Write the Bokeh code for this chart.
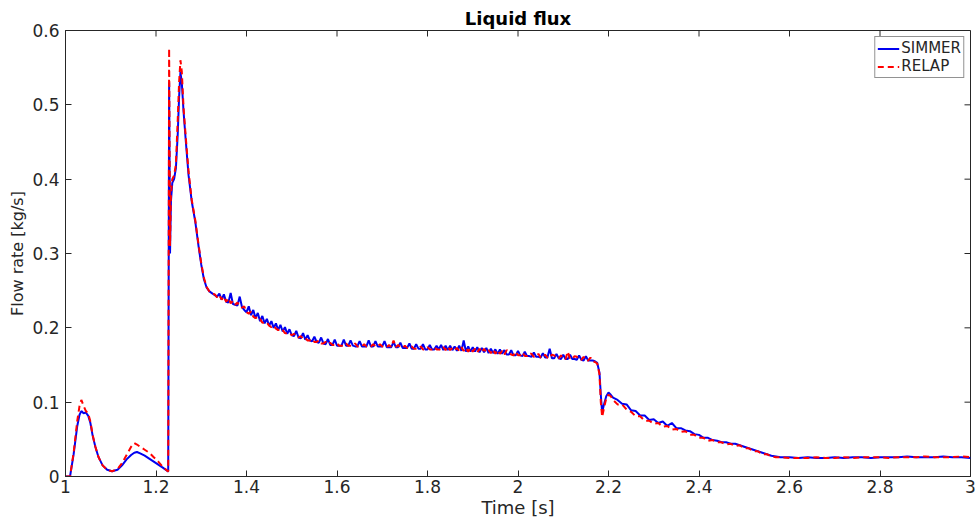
from bokeh.plotting import figure
from bokeh.models import Legend, LegendItem, FixedTicker
from bokeh.embed import file_html
from bokeh.resources import INLINE

# ---------------- data ----------------
x_ticks = [1, 1.2, 1.4, 1.6, 1.8, 2, 2.2, 2.4, 2.6, 2.8, 3]
x_tick_labels = ["1", "1.2", "1.4", "1.6", "1.8", "2", "2.2", "2.4", "2.6", "2.8", "3"]
y_ticks = [0, 0.1, 0.2, 0.3, 0.4, 0.5, 0.6]
y_tick_labels = ["0", "0.1", "0.2", "0.3", "0.4", "0.5", "0.6"]
x_limits = (1, 3)
y_limits = (0, 0.6)

# early part: two small humps
t_early = [1.000, 1.010, 1.018, 1.026, 1.031, 1.035, 1.040, 1.045, 1.050, 1.055,
           1.060, 1.066, 1.073, 1.082, 1.092, 1.103, 1.115, 1.125, 1.135, 1.145,
           1.152, 1.158, 1.165, 1.175, 1.185, 1.195, 1.205, 1.215, 1.226]
simmer_early = [0.000, 0.000, 0.030, 0.068, 0.083, 0.088, 0.085, 0.086, 0.082, 0.072,
                0.055, 0.040, 0.026, 0.015, 0.009, 0.007, 0.009, 0.015, 0.023, 0.029,
                0.032, 0.033, 0.031, 0.028, 0.024, 0.020, 0.016, 0.012, 0.007]
relap_early = [0.000, 0.000, 0.032, 0.075, 0.095, 0.103, 0.095, 0.088, 0.085, 0.074,
               0.056, 0.040, 0.026, 0.015, 0.009, 0.007, 0.010, 0.018, 0.029, 0.040,
               0.045, 0.043, 0.040, 0.036, 0.032, 0.026, 0.020, 0.013, 0.007]

# main peak
t_peak = [1.227, 1.229, 1.230, 1.231, 1.233, 1.236, 1.240, 1.244, 1.248, 1.251,
          1.254, 1.257, 1.261, 1.266, 1.272, 1.279, 1.287, 1.294, 1.300, 1.306,
          1.312, 1.318, 1.325]
simmer_peak = [0.007, 0.530, 0.420, 0.300, 0.370, 0.395, 0.400, 0.415, 0.460, 0.510,
               0.544, 0.530, 0.490, 0.450, 0.405, 0.370, 0.342, 0.310, 0.285, 0.265,
               0.254, 0.249, 0.246]
relap_peak = [0.007, 0.576, 0.450, 0.310, 0.380, 0.400, 0.405, 0.420, 0.480, 0.530,
              0.560, 0.545, 0.495, 0.455, 0.410, 0.372, 0.344, 0.312, 0.287, 0.267,
              0.255, 0.249, 0.246]

# noisy plateau 1.330 .. 2.175
t_mid = [
    1.330, 1.335, 1.340, 1.345, 1.350, 1.355, 1.360, 1.365, 1.370, 1.375,
    1.380, 1.385, 1.390, 1.395, 1.400, 1.405, 1.410, 1.415, 1.420, 1.425,
    1.430, 1.435, 1.440, 1.445, 1.450, 1.455, 1.460, 1.465, 1.470, 1.475,
    1.480, 1.485, 1.490, 1.495, 1.500, 1.505, 1.510, 1.515, 1.520, 1.525,
    1.530, 1.535, 1.540, 1.545, 1.550, 1.555, 1.560, 1.565, 1.570, 1.575,
    1.580, 1.585, 1.590, 1.595, 1.600, 1.605, 1.610, 1.615, 1.620, 1.625,
    1.630, 1.635, 1.640, 1.645, 1.650, 1.655, 1.660, 1.665, 1.670, 1.675,
    1.680, 1.685, 1.690, 1.695, 1.700, 1.705, 1.710, 1.715, 1.720, 1.725,
    1.730, 1.735, 1.740, 1.745, 1.750, 1.755, 1.760, 1.765, 1.770, 1.775,
    1.780, 1.785, 1.790, 1.795, 1.800, 1.805, 1.810, 1.815, 1.820, 1.825,
    1.830, 1.835, 1.840, 1.845, 1.850, 1.855, 1.860, 1.865, 1.870, 1.875,
    1.880, 1.885, 1.890, 1.895, 1.900, 1.905, 1.910, 1.915, 1.920, 1.925,
    1.930, 1.935, 1.940, 1.945, 1.950, 1.955, 1.960, 1.965, 1.970, 1.975,
    1.980, 1.985, 1.990, 1.995, 2.000, 2.005, 2.010, 2.015, 2.020, 2.025,
    2.030, 2.035, 2.040, 2.045, 2.050, 2.055, 2.060, 2.065, 2.070, 2.075,
    2.080, 2.085, 2.090, 2.095, 2.100, 2.105, 2.110, 2.115, 2.120, 2.125,
    2.130, 2.135, 2.140, 2.145, 2.150, 2.155, 2.160, 2.165, 2.170, 2.175]
simmer_mid = [
    0.244, 0.242, 0.246, 0.238, 0.245, 0.235, 0.234, 0.247, 0.232, 0.231,
    0.230, 0.242, 0.228, 0.224, 0.221, 0.229, 0.217, 0.224, 0.213, 0.220,
    0.209, 0.216, 0.206, 0.212, 0.203, 0.209, 0.200, 0.206, 0.197, 0.204,
    0.195, 0.201, 0.192, 0.198, 0.190, 0.189, 0.196, 0.187, 0.186, 0.193,
    0.184, 0.190, 0.183, 0.182, 0.188, 0.181, 0.180, 0.187, 0.179, 0.178,
    0.185, 0.177, 0.177, 0.184, 0.176, 0.176, 0.176, 0.184, 0.176, 0.176,
    0.183, 0.176, 0.175, 0.175, 0.182, 0.175, 0.175, 0.175, 0.183, 0.175,
    0.175, 0.182, 0.175, 0.175, 0.175, 0.182, 0.174, 0.174, 0.174, 0.181,
    0.174, 0.174, 0.180, 0.173, 0.173, 0.173, 0.179, 0.172, 0.172, 0.178,
    0.172, 0.172, 0.178, 0.171, 0.171, 0.177, 0.171, 0.171, 0.176, 0.171,
    0.177, 0.170, 0.176, 0.170, 0.176, 0.170, 0.175, 0.169, 0.176, 0.169,
    0.183, 0.168, 0.175, 0.168, 0.174, 0.168, 0.174, 0.167, 0.173, 0.167,
    0.173, 0.166, 0.172, 0.166, 0.171, 0.165, 0.171, 0.165, 0.170, 0.164,
    0.164, 0.170, 0.163, 0.163, 0.169, 0.163, 0.162, 0.168, 0.162, 0.162,
    0.161, 0.167, 0.161, 0.161, 0.160, 0.166, 0.160, 0.160, 0.172, 0.159,
    0.159, 0.165, 0.159, 0.158, 0.164, 0.158, 0.158, 0.164, 0.158, 0.158,
    0.157, 0.163, 0.157, 0.156, 0.162, 0.156, 0.156, 0.156, 0.155, 0.153]
relap_mid = [
    0.245, 0.241, 0.244, 0.238, 0.242, 0.235, 0.240, 0.233, 0.236, 0.231,
    0.234, 0.229, 0.227, 0.229, 0.221, 0.219, 0.222, 0.215, 0.213, 0.215,
    0.212, 0.207, 0.206, 0.207, 0.203, 0.201, 0.203, 0.199, 0.197, 0.199,
    0.197, 0.193, 0.192, 0.193, 0.190, 0.192, 0.188, 0.187, 0.189, 0.185,
    0.186, 0.183, 0.183, 0.185, 0.181, 0.181, 0.183, 0.179, 0.179, 0.181,
    0.178, 0.180, 0.177, 0.177, 0.179, 0.176, 0.176, 0.176, 0.179, 0.176,
    0.176, 0.176, 0.179, 0.175, 0.175, 0.175, 0.178, 0.175, 0.175, 0.175,
    0.178, 0.175, 0.175, 0.178, 0.175, 0.175, 0.174, 0.177, 0.174, 0.183,
    0.174, 0.177, 0.174, 0.173, 0.176, 0.173, 0.173, 0.175, 0.172, 0.172,
    0.172, 0.175, 0.171, 0.171, 0.174, 0.171, 0.171, 0.174, 0.171, 0.171,
    0.170, 0.174, 0.170, 0.175, 0.170, 0.173, 0.170, 0.173, 0.169, 0.174,
    0.169, 0.173, 0.168, 0.173, 0.168, 0.172, 0.167, 0.172, 0.167, 0.172,
    0.167, 0.170, 0.166, 0.171, 0.165, 0.170, 0.165, 0.169, 0.164, 0.170,
    0.168, 0.164, 0.163, 0.168, 0.163, 0.163, 0.167, 0.162, 0.162, 0.166,
    0.165, 0.161, 0.161, 0.165, 0.160, 0.160, 0.164, 0.160, 0.159, 0.164,
    0.163, 0.159, 0.159, 0.163, 0.158, 0.158, 0.168, 0.158, 0.158, 0.162,
    0.161, 0.157, 0.157, 0.161, 0.156, 0.156, 0.160, 0.155, 0.154, 0.152]

# drop and decay 2.180 .. 2.570
t_decay = [2.180, 2.183, 2.186, 2.190, 2.195, 2.200, 2.205, 2.210, 2.220, 2.230,
           2.240, 2.250, 2.260, 2.270, 2.280, 2.290, 2.300, 2.310, 2.320, 2.330,
           2.340, 2.350, 2.360, 2.370, 2.380, 2.390, 2.400, 2.410, 2.420, 2.430,
           2.440, 2.450, 2.460, 2.470, 2.480, 2.490, 2.500, 2.510, 2.520, 2.530,
           2.540, 2.550, 2.560, 2.570]
simmer_decay = [0.140, 0.110, 0.086, 0.097, 0.108, 0.113, 0.110, 0.106, 0.103, 0.098,
                0.097, 0.089, 0.088, 0.082, 0.082, 0.076, 0.077, 0.072, 0.074, 0.068,
                0.072, 0.065, 0.065, 0.062, 0.061, 0.057, 0.056, 0.052, 0.052, 0.049,
                0.048, 0.046, 0.046, 0.044, 0.044, 0.042, 0.040, 0.038, 0.036, 0.034,
                0.032, 0.030, 0.028, 0.027]
relap_decay = [0.138, 0.100, 0.080, 0.092, 0.105, 0.110, 0.108, 0.103, 0.097, 0.097,
               0.090, 0.087, 0.081, 0.081, 0.075, 0.075, 0.071, 0.072, 0.067, 0.068,
               0.063, 0.064, 0.060, 0.061, 0.056, 0.056, 0.052, 0.052, 0.048, 0.049,
               0.046, 0.046, 0.043, 0.044, 0.041, 0.042, 0.038, 0.038, 0.034, 0.034,
               0.030, 0.030, 0.027, 0.026]

# flat tail 2.58 .. 3.00
t_tail = [2.58, 2.60, 2.62, 2.64, 2.66, 2.68, 2.70, 2.72, 2.74, 2.76, 2.78,
          2.80, 2.82, 2.84, 2.86, 2.88, 2.90, 2.92, 2.94, 2.96, 2.98, 3.00]
simmer_tail = [0.026, 0.026, 0.025, 0.026, 0.025, 0.025, 0.026, 0.025, 0.026, 0.026, 0.025,
               0.026, 0.026, 0.026, 0.027, 0.026, 0.026, 0.026, 0.027, 0.026, 0.026, 0.025]
relap_tail = [0.026, 0.025, 0.025, 0.025, 0.026, 0.025, 0.025, 0.026, 0.025, 0.026, 0.026,
              0.026, 0.025, 0.026, 0.026, 0.026, 0.027, 0.026, 0.026, 0.026, 0.027, 0.026]

time_s = t_early + t_peak + t_mid + t_decay + t_tail
simmer = simmer_early + simmer_peak + simmer_mid + simmer_decay + simmer_tail
relap = relap_early + relap_peak + relap_mid + relap_decay + relap_tail

# ---------------- figure ----------------
FONT = "DejaVu Sans"
TXT = "#262626"
W, H = 977, 525
BL, BR, BT, BB = 65, 7, 30, 49
TICK = 6  # inward tick length, px

p = figure(width=W, height=H, x_range=x_limits, y_range=y_limits,
           output_backend="svg", toolbar_location=None,
           min_border_left=BL, min_border_right=BR, min_border_top=BT,
           min_border_bottom=BB, title="Liquid flux")
p.background_fill_color = "white"
p.border_fill_color = "white"
p.outline_line_color = TXT
p.outline_line_width = 1
p.grid.visible = False

p.title.align = "center"
p.title.text_font = FONT
p.title.text_font_size = "18px"
p.title.text_font_style = "bold"
p.title.text_color = "black"
p.title.standoff = 4

for ax in (p.xaxis[0], p.yaxis[0]):
    ax.major_tick_in = TICK
    ax.major_tick_out = 0
    ax.minor_tick_in = 0
    ax.minor_tick_out = 0
    ax.axis_line_color = TXT
    ax.major_tick_line_color = TXT
    ax.major_label_text_font = FONT
    ax.major_label_text_font_size = "17px"
    ax.major_label_text_color = TXT
    ax.axis_label_text_font = FONT
    ax.axis_label_text_font_style = "normal"
    ax.axis_label_text_color = TXT

p.xaxis.axis_label_text_font_size = "18px"
p.yaxis.axis_label_text_font_size = "16px"
p.xaxis.ticker = FixedTicker(ticks=x_ticks)
p.yaxis.ticker = FixedTicker(ticks=y_ticks)
p.xaxis.major_label_overrides = {v: s for v, s in zip(x_ticks, x_tick_labels)}
p.yaxis.major_label_overrides = {v: s for v, s in zip(y_ticks, y_tick_labels)}
p.xaxis.axis_label = "Time [s]"
p.yaxis.axis_label = "Flow rate [kg/s]"
p.xaxis.major_label_standoff = 3
p.yaxis.major_label_standoff = 6
p.xaxis.axis_label_standoff = 1
p.yaxis.axis_label_standoff = 2

# mirrored inward ticks on the top and right edges
frame_w = W - BL - BR
frame_h = H - BT - BB
dy = TICK * (y_limits[1] - y_limits[0]) / frame_h
dx = TICK * (x_limits[1] - x_limits[0]) / frame_w
p.segment(x0=x_ticks, y0=[y_limits[1]] * len(x_ticks),
          x1=x_ticks, y1=[y_limits[1] - dy] * len(x_ticks),
          line_color=TXT, line_width=1)
p.segment(x0=[x_limits[1]] * len(y_ticks), y0=y_ticks,
          x1=[x_limits[1] - dx] * len(y_ticks), y1=y_ticks,
          line_color=TXT, line_width=1)

r_sim = p.line(time_s, simmer, line_color="#0000f0", line_width=2)
r_rel = p.line(time_s, relap, line_color="#ff0000", line_width=2, line_dash="6 4")

legend = Legend(items=[LegendItem(label="SIMMER", renderers=[r_sim]),
                       LegendItem(label="RELAP", renderers=[r_rel])],
                location="top_right")
legend.margin = 6
legend.padding = 2
legend.spacing = 0
legend.glyph_width = 22
legend.glyph_height = 17
legend.label_height = 17
legend.label_standoff = 2
legend.label_text_font = FONT
legend.label_text_font_size = "15px"
legend.label_text_color = TXT
legend.border_line_color = TXT
legend.border_line_width = 1
legend.background_fill_color = "white"
legend.background_fill_alpha = 1
p.add_layout(legend)

open("out.html", "w").write(file_html(p, INLINE))
